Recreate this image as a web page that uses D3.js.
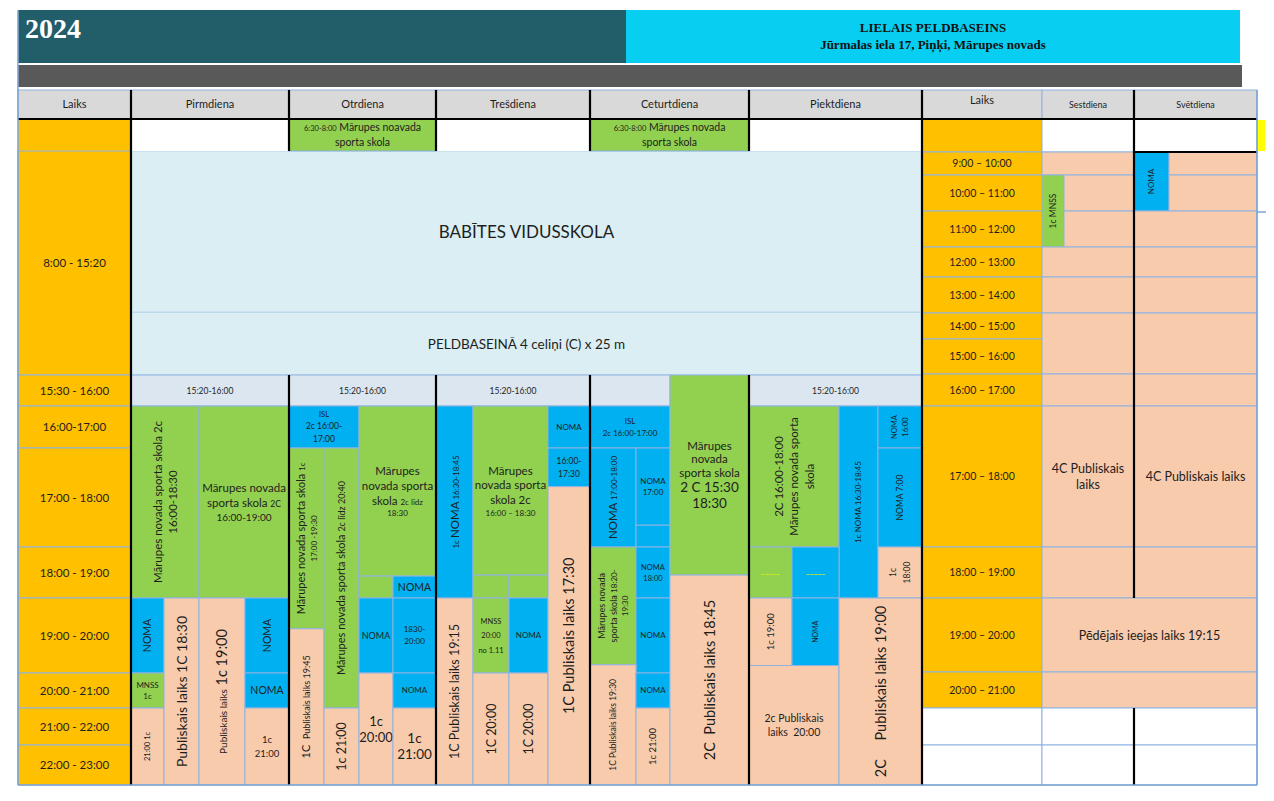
<!DOCTYPE html>
<html>
<head>
<meta charset="utf-8">
<script src="https://cdn.jsdelivr.net/npm/d3@7/dist/d3.min.js"></script>
<style>
  body { margin: 0; background: #fff; }
  svg text { font-family: Lato, "Open Sans", sans-serif; fill: #1e1e1e; }
</style>
</head>
<body>
<script>
(function () {
// ---- data -------------------------------------------------------------
var year = "2024";
var venue = ["LIELAIS PELDBASEINS", "Jūrmalas iela 17, Piņķi, Mārupes novads"];
var days = ["Pirmdiena", "Otrdiena", "Trešdiena", "Ceturtdiena", "Piektdiena"];
var weekendDays = ["Sestdiena", "Svētdiena"];

// [from, to, label] in hours
var weekdayRows = [
  [6.5, 8, ""], [8, 15.5, "8:00 - 15:20"], [15.5, 16, "15:30 - 16:00"],
  [16, 17, "16:00-17:00"], [17, 18, "17:00 - 18:00"], [18, 19, "18:00 - 19:00"],
  [19, 20, "19:00 - 20:00"], [20, 21, "20:00 - 21:00"], [21, 22, "21:00 - 22:00"],
  [22, 23, "22:00 - 23:00"]
];
var weekendRows = [
  [6.5, 9, ""], [9, 10, "9:00 – 10:00"], [10, 11, "10:00 – 11:00"], [11, 12, "11:00 – 12:00"],
  [12, 13, "12:00 – 13:00"], [13, 14, "13:00 – 14:00"], [14, 15, "14:00 – 15:00"],
  [15, 16, "15:00 – 16:00"], [16, 17, "16:00 – 17:00"], [17, 18, "17:00 – 18:00"],
  [18, 19, "18:00 – 19:00"], [19, 20, "19:00 – 20:00"], [20, 21, "20:00 – 21:00"],
  [21, 22, ""], [22, 23, ""]
];

var schoolBlocks = [
  { id: "s1", t: [8, 13.4], txt: "BABĪTES VIDUSSKOLA" },
  { id: "s2", t: [13.4, 15.5], txt: "PELDBASEINĀ 4 celiņi (C) x 25 m" }
];

// d = day, l = lanes [from, to], t = hours [from, to], k = kind
var sessions = [
  // Pirmdiena
  { id: "p0", d: 0, l: [0, 4], t: [15.5, 16], k: "pale", txt: "15:20-16:00" },
  { id: "p1", d: 0, l: [0, 2], t: [16, 19], k: "green", txt: "Mārupes novada sporta skola 2c\n16:00-18:30" },
  { id: "p2", d: 0, l: [2, 4], t: [16, 19], k: "green", txt: "Mārupes novada\nsporta skola {2C}\n16:00-19:00" },
  { id: "p3", d: 0, l: [0, 1], t: [19, 20], k: "blue", txt: "NOMA" },
  { id: "p4", d: 0, l: [0, 1], t: [20, 21], k: "green", txt: "MNSS\n1c" },
  { id: "p5", d: 0, l: [0, 1], t: [21, 23], k: "peach", txt: "21:00 1c" },
  { id: "p6", d: 0, l: [1, 2], t: [19, 23], k: "peach", txt: "Publiskais laiks 1C 18:30" },
  { id: "p7", d: 0, l: [2, 3], t: [19, 23], k: "peach", txt: "{Publiskais laiks} 1c 19:00" },
  { id: "p8", d: 0, l: [3, 4], t: [19, 20], k: "blue", txt: "NOMA" },
  { id: "p9", d: 0, l: [3, 4], t: [20, 21], k: "blue", txt: "NOMA" },
  { id: "p10", d: 0, l: [3, 4], t: [21, 23], k: "peach", txt: "1c\n21:00" },
  // Otrdiena
  { id: "o0", d: 1, l: [0, 4], t: [6.5, 8], k: "green", txt: "{6:30-8:00} Mārupes noavada\nsporta skola" },
  { id: "o00", d: 1, l: [0, 4], t: [15.5, 16], k: "pale", txt: "15:20-16:00" },
  { id: "o1", d: 1, l: [0, 2], t: [16, 17], k: "blue", txt: "ISL\n2c 16:00-\n17:00" },
  { id: "o2", d: 1, l: [0, 1], t: [17, 19.41], k: "green", txt: "Mārupes novada sporta skola {1c}\n{17:00 -19:30}" },
  { id: "o3", d: 1, l: [0, 1], t: [19.41, 23], k: "peach", txt: "1C  {Publiskais laiks 19:45}" },
  { id: "o4", d: 1, l: [1, 2], t: [17, 21], k: "green", txt: "Mārupes novada sporta skola {2c līdz 20:40}" },
  { id: "o5", d: 1, l: [1, 2], t: [21, 23], k: "peach", txt: "1c 21:00" },
  { id: "o6", d: 1, l: [2, 4], t: [16, 18.57], k: "green", txt: "Mārupes\nnovada sporta\nskola {2c līdz}\n{18:30}" },
  { id: "o7", d: 1, l: [2, 3], t: [18.57, 19], k: "green", txt: "" },
  { id: "o8", d: 1, l: [3, 4], t: [18.57, 19], k: "blue", txt: "NOMA" },
  { id: "o9", d: 1, l: [2, 3], t: [19, 20], k: "blue", txt: "NOMA" },
  { id: "o10", d: 1, l: [3, 4], t: [19, 20], k: "blue", txt: "1830-\n20:00" },
  { id: "o11", d: 1, l: [2, 3], t: [20, 23], k: "peach", txt: "1c\n20:00" },
  { id: "o12", d: 1, l: [3, 4], t: [20, 21], k: "blue", txt: "NOMA" },
  { id: "o13", d: 1, l: [3, 4], t: [21, 23], k: "peach", txt: "1c\n21:00" },
  // Trešdiena
  { id: "w0", d: 2, l: [0, 4], t: [15.5, 16], k: "pale", txt: "15:20-16:00" },
  { id: "w1", d: 2, l: [0, 1], t: [16, 19], k: "blue", txt: "{1c }NOMA{ 16:30-18:45}" },
  { id: "w2", d: 2, l: [0, 1], t: [19, 23], k: "peach", txt: "1C Publiskais laiks 19:15" },
  { id: "w3", d: 2, l: [1, 3], t: [16, 18.55], k: "green", txt: "Mārupes\nnovada sporta\nskola 2c\n{16:00 – 18:30}" },
  { id: "w4", d: 2, l: [1, 2], t: [18.55, 19], k: "green", txt: "" },
  { id: "w5", d: 2, l: [2, 3], t: [18.55, 19], k: "green", txt: "" },
  { id: "w6", d: 2, l: [1, 2], t: [19, 20], k: "green", txt: "MNSS\n20:00\nno 1.11" },
  { id: "w7", d: 2, l: [2, 3], t: [19, 20], k: "blue", txt: "NOMA" },
  { id: "w8", d: 2, l: [1, 2], t: [20, 23], k: "peach", txt: "1C 20:00" },
  { id: "w9", d: 2, l: [2, 3], t: [20, 23], k: "peach", txt: "1C 20:00" },
  { id: "w10", d: 2, l: [3, 4], t: [16, 17], k: "blue", txt: "NOMA" },
  { id: "w11", d: 2, l: [3, 4], t: [17, 17.39], k: "blue", txt: "16:00-\n17:30" },
  { id: "w12", d: 2, l: [3, 4], t: [17.39, 23], k: "peach", txt: "1C Publiskais laiks 17:30" },
  // Ceturtdiena
  { id: "c0", d: 3, l: [0, 3], t: [6.5, 8], k: "green", txt: "{6:30-8:00} Mārupes novada\nsporta skola" },
  { id: "c1", d: 3, l: [0, 2], t: [15.5, 16], k: "pale", txt: "" },
  { id: "c2", d: 3, l: [0, 2], t: [16, 17], k: "blue", txt: "ISL\n2c 16:00-17:00" },
  { id: "c3", d: 3, l: [0, 1], t: [17, 18], k: "blue", txt: "NOMA {17:00-18:00}" },
  { id: "c4", d: 3, l: [1, 2], t: [17, 17.78], k: "blue", txt: "NOMA\n17:00" },
  { id: "c5", d: 3, l: [1, 2], t: [17.78, 18], k: "blue", txt: "" },
  { id: "c6", d: 3, l: [0, 1], t: [18, 19.89], k: "green", txt: "Mārupes novada\nsporta skola {18:20-}\n{19:30}" },
  { id: "c7", d: 3, l: [1, 2], t: [18, 19], k: "blue", txt: "NOMA\n18:00" },
  { id: "c8", d: 3, l: [1, 2], t: [19, 20], k: "blue", txt: "NOMA" },
  { id: "c9", d: 3, l: [0, 1], t: [19.89, 23], k: "peach", txt: "1C Publiskais laiks 19:30" },
  { id: "c10", d: 3, l: [1, 2], t: [20, 21], k: "blue", txt: "NOMA" },
  { id: "c11", d: 3, l: [1, 2], t: [21, 23], k: "peach", txt: "1c 21:00" },
  { id: "c12", d: 3, l: [2, 3], t: [15.5, 18.55], k: "green", txt: "Mārupes\nnovada\nsporta skola\n2 C 15:30\n18:30" },
  { id: "c13", d: 3, l: [2, 3], t: [18.55, 23], k: "peach", txt: "2C  Publiskais laiks 18:45" },
  // Piektdiena
  { id: "f0", d: 4, l: [0, 4], t: [15.5, 16], k: "pale", txt: "15:20-16:00" },
  { id: "f1", d: 4, l: [0, 2], t: [16, 18], k: "green", txt: "2C 16:00-18:00\nMārupes novada sporta\nskola" },
  { id: "f2", d: 4, l: [2, 3], t: [16, 19], k: "blue", txt: "1c NOMA 16:30-18:45" },
  { id: "f3", d: 4, l: [3, 4], t: [16, 17], k: "blue", txt: "NOMA\n16:00" },
  { id: "f4", d: 4, l: [3, 4], t: [17, 18], k: "blue", txt: "NOMA 7:00" },
  { id: "f5", d: 4, l: [3, 4], t: [18, 19], k: "peach", txt: "1c\n18:00" },
  { id: "f6", d: 4, l: [0, 1], t: [18, 19], k: "green", txt: "_____" },
  { id: "f7", d: 4, l: [1, 2], t: [18, 19], k: "blue", txt: "_____" },
  { id: "f8", d: 4, l: [0, 1], t: [19, 19.9], k: "peach", txt: "1c 19:00" },
  { id: "f9", d: 4, l: [1, 2], t: [19, 19.9], k: "blue", txt: "NOMA" },
  { id: "f10", d: 4, l: [0, 2], t: [19.9, 23], k: "peach", txt: "2c Publiskais\nlaiks  20:00" },
  { id: "f11", d: 4, l: [2, 4], t: [19, 23], k: "peach", txt: "2C     Publiskais laiks 19:00" }
];

// weekend lanes: 0..2 = Sestdiena, 2..4 = Svētdiena
var weekendSessions = [
  { id: "e1", l: [0, 2], t: [6.5, 9], k: "white", txt: "" },
  { id: "e2", l: [2, 4], t: [6.5, 9], k: "white", txt: "" },
  { id: "e3", l: [0, 2], t: [9, 10], k: "peach", txt: "" },
  { id: "e4", l: [0, 1], t: [10, 12], k: "green", txt: "1c MNSS" },
  { id: "e5", l: [1, 2], t: [10, 11], k: "peach", txt: "" },
  { id: "e6", l: [1, 2], t: [11, 12], k: "peach", txt: "" },
  { id: "e7", l: [2, 3], t: [9, 11], k: "blue", txt: "NOMA" },
  { id: "e8", l: [3, 4], t: [9, 10], k: "peach", txt: "" },
  { id: "e9", l: [3, 4], t: [10, 11], k: "peach", txt: "" },
  { id: "e10", l: [2, 4], t: [11, 12], k: "peach", txt: "" },
  { id: "e11", l: [0, 2], t: [12, 13], k: "peach", txt: "" },
  { id: "e12", l: [2, 4], t: [12, 13], k: "peach", txt: "" },
  { id: "e13", l: [0, 2], t: [13, 14], k: "peach", txt: "" },
  { id: "e14", l: [2, 4], t: [13, 14], k: "peach", txt: "" },
  { id: "e15", l: [0, 2], t: [14, 16], k: "peach", txt: "" },
  { id: "e16", l: [2, 4], t: [14, 16], k: "peach", txt: "" },
  { id: "e17", l: [0, 2], t: [16, 17], k: "peach", txt: "" },
  { id: "e18", l: [2, 4], t: [16, 17], k: "peach", txt: "" },
  { id: "e19", l: [0, 2], t: [17, 18], k: "peach", txt: "4C Publiskais\nlaiks" },
  { id: "e20", l: [2, 4], t: [17, 18], k: "peach", txt: "4C Publiskais laiks" },
  { id: "e21", l: [0, 2], t: [18, 19], k: "peach", txt: "" },
  { id: "e22", l: [2, 4], t: [18, 19], k: "peach", txt: "" },
  { id: "e23", l: [0, 4], t: [19, 20], k: "peach", txt: "Pēdējais ieejas laiks 19:15" },
  { id: "e24", l: [0, 4], t: [20, 21], k: "peach", txt: "" },
  { id: "e25", l: [0, 2], t: [21, 22], k: "white", txt: "" },
  { id: "e26", l: [2, 4], t: [21, 22], k: "white", txt: "" },
  { id: "e27", l: [0, 2], t: [22, 23], k: "white", txt: "" },
  { id: "e28", l: [2, 4], t: [22, 23], k: "white", txt: "" }
];

// ---- label formats (r = rotated, fs = size, sm = small segments, ls = per line) ----
var fmt = {
  s1: { fs: 17 }, s2: { fs: 13.5 },
  p0: { fs: 8.5 }, o00: { fs: 8.5 }, w0: { fs: 8.5 }, f0: { fs: 8.5 },
  p1: { r: 1, fs: 11.5, lh: 1.3 }, p2: { ls: [11.5, 11.5, 10], sm: 8.5, lh: 1.3 },
  p3: { r: 1, fs: 10.5 }, p4: { fs: 8, lh: 1.45 }, p5: { r: 1, fs: 7.5 },
  p6: { r: 1, fs: 14 }, p7: { r: 1, fs: 14.5, sm: 10 }, p8: { r: 1, fs: 10.5 },
  p9: { fs: 10.5 }, p10: { fs: 9.5, lh: 1.45 },
  o0: { fs: 10.5, sm: 7.5, lh: 1.4 }, o1: { ls: [7.5, 8.5, 8.5], lh: 1.5 },
  o2: { r: 1, fs: 11, sm: 8, lh: 1.35 }, o3: { r: 1, fs: 11, sm: 9 },
  o4: { r: 1, fs: 11, sm: 9 }, o5: { r: 1, fs: 12.5 },
  o6: { ls: [11.5, 11.5, 11.5, 8], sm: 8, lh: 1.3 }, o8: { fs: 10.5 }, o9: { fs: 9 },
  o10: { fs: 8, lh: 1.5 }, o11: { fs: 13, lh: 1.25 }, o12: { fs: 8 }, o13: { fs: 13.5, lh: 1.2 },
  w1: { r: 1, fs: 11.5, sm: 8 }, w2: { r: 1, fs: 12.5 },
  w3: { ls: [11.5, 11.5, 11.5, 8], sm: 8, lh: 1.3 }, w6: { fs: 7.5, lh: 1.95 },
  w7: { fs: 8 }, w8: { r: 1, fs: 12.5 }, w9: { r: 1, fs: 12.5 }, w10: { fs: 8 },
  w11: { fs: 8.5, lh: 1.5 }, w12: { r: 1, fs: 14.5 },
  c0: { fs: 10.5, sm: 7.5, lh: 1.4 }, c2: { fs: 8, lh: 1.5 }, c3: { r: 1, fs: 11.5, sm: 8 },
  c4: { fs: 8, lh: 1.4 }, c6: { r: 1, fs: 9, sm: 8, lh: 1.35 }, c7: { fs: 7.5, lh: 1.45 },
  c8: { fs: 8 }, c9: { r: 1, fs: 8.5 }, c10: { fs: 8 }, c11: { r: 1, fs: 9.5 },
  c12: { ls: [11.5, 11.5, 11.5, 13.5, 13.5], lh: 1.18 }, c13: { r: 1, fs: 14.5 },
  f1: { r: 1, fs: 11.5, lh: 1.35 }, f2: { r: 1, fs: 8 }, f3: { r: 1, fs: 7.5, lh: 1.4 },
  f4: { r: 1, fs: 8.5 }, f5: { r: 1, fs: 8.5, lh: 1.6 },
  f6: { fs: 8.5, c: "#e4f000", dy: -3 }, f7: { fs: 8.5, c: "#e4f000", dy: -3 },
  f8: { r: 1, fs: 9.5 }, f9: { r: 1, fs: 7 }, f10: { fs: 10.5, lh: 1.35 }, f11: { r: 1, fs: 14.5 },
  e4: { r: 1, fs: 8.5 }, e7: { r: 1, fs: 8 }, e19: { fs: 12.5, lh: 1.3 }, e20: { fs: 12.5 },
  e23: { fs: 12.5 }
};

// ---- layout -------------------------------------------------------------
var W = 1274, H = 801;
var COL = { green: "#92D050", blue: "#00B0F0", peach: "#F8CBAD", pale: "#DCE6F1",
  school: "#DAEEF3", white: "#FFFFFF", orange: "#FFC000", head: "#D9D9D9" };
var GRID = "#8DB3E2";

// column edges: Laiks, 5 weekdays, Laiks, Sestdiena, Svētdiena
var colX = d3.scaleLinear().domain(d3.range(10))
  .range([18, 131, 289, 436, 590, 749, 922, 1042, 1134, 1257]);
// rows are not evenly sized, so both time scales are polylinear
var yWeek = d3.scaleLinear().domain([6.5, 8, 15.5, 16, 17, 18, 19, 20, 21, 22, 23])
  .range([119, 151, 375, 406, 448, 547, 598, 673, 708, 745, 785]);
var yEnd = d3.scaleLinear().domain([6.5, 9, 10, 11, 12, 13, 14, 15, 16, 17, 18, 19, 20, 21, 22, 23])
  .range([119, 152, 175, 211, 247, 277, 313, 339, 374, 406, 547, 598, 672, 708, 745, 785]);
// sub-lane edges inside each weekday column
var laneEdges = [
  [131, 164, 199, 245, 289],
  [289, 324, 359, 393, 436],
  [436, 473, 509, 548, 590],
  [590, 636, 670, 749],
  [749, 792, 839, 878, 922]
];
var laneX = laneEdges.map(function (e) {
  return d3.scaleLinear().domain(d3.range(e.length)).range(e);
});
var weekendX = d3.scaleLinear().domain([0, 1, 2, 3, 4]).range([1042, 1064, 1134, 1169, 1257]);

var svg = d3.select("body").append("svg").attr("width", W).attr("height", H);

// multi-line label, optionally rotated; {..} marks smaller segments
function drawLabel(g, b, txt, f) {
  if (!txt) return;
  f = f || {};
  var fs = f.fs || 10, sm = f.sm || fs * 0.72, lh = f.lh || 1.25;
  var rows = txt.split("\n");
  var sizes = rows.map(function (ln, i) {
    if (f.ls) return f.ls[i];
    return /^\{[^}]*\}$/.test(ln) ? sm : fs;
  });
  var steps = sizes.map(function (s) { return s * lh; });
  var total = d3.sum(steps);
  var cx = (b.x0 + b.x1) / 2, cy = (b.y0 + b.y1) / 2 + (f.dy || 0);
  var t = g.append("text").attr("text-anchor", "middle")
    .attr("transform", "translate(" + cx + "," + cy + ")" + (f.r ? " rotate(-90)" : ""))
    .style("white-space", "pre");
  if (f.c) t.style("fill", f.c);
  var off = -total / 2;
  rows.forEach(function (ln, i) {
    var mid = off + steps[i] / 2;
    off += steps[i];
    var tl = t.append("tspan").attr("x", 0).attr("y", mid + sizes[i] * 0.36)
      .style("font-size", sizes[i] + "px");
    ln.split(/(\{[^}]*\})/).forEach(function (seg) {
      if (!seg) return;
      var small = seg.charAt(0) === "{";
      tl.append("tspan")
        .style("font-size", (small ? Math.min(sm, sizes[i]) : sizes[i]) + "px")
        .text(small ? seg.slice(1, -1) : seg);
    });
  });
}

function cell(g, b, fill, stroke) {
  g.append("rect").attr("x", b.x0).attr("y", b.y0)
    .attr("width", b.x1 - b.x0).attr("height", b.y1 - b.y0)
    .attr("fill", fill).attr("stroke", stroke === undefined ? GRID : stroke)
    .attr("stroke-width", 1);
}

// ---- title bands ----
var titleG = svg.append("g");
titleG.append("rect").attr("x", 18).attr("y", 10).attr("width", 608).attr("height", 53).attr("fill", "#225E6A");
titleG.append("rect").attr("x", 626).attr("y", 10).attr("width", 614).attr("height", 53).attr("fill", "#08CEF2");
titleG.append("rect").attr("x", 18).attr("y", 65).attr("width", 1224).attr("height", 22).attr("fill", "#595959");
titleG.append("text").attr("x", 25).attr("y", 38)
  .style("font-family", "'Liberation Serif', serif").style("font-weight", "bold")
  .style("font-size", "28px").style("fill", "#fff").text(year);
venue.forEach(function (v, i) {
  titleG.append("text").attr("x", 933).attr("y", 32 + i * 17).attr("text-anchor", "middle")
    .style("font-family", "'Liberation Serif', serif").style("font-weight", "bold")
    .style("font-size", "13px").style("fill", "#111").text(v);
});

// ---- header row ----
var headG = svg.append("g");
var headers = ["Laiks"].concat(days, ["Laiks"], weekendDays);
headers.forEach(function (h, i) {
  var b = { x0: colX(i), x1: colX(i + 1), y0: 90, y1: 119 };
  cell(headG, b, COL.head);
  var small = i >= 7;
  drawLabel(headG, { x0: b.x0, x1: b.x1, y0: b.y0, y1: b.y1 + (i === 6 ? -9 : 0) }, h,
    { fs: small ? 9 : 11 });
});

// ---- time columns ----
var timeG = svg.append("g");
weekdayRows.forEach(function (r, i) {
  var b = { x0: colX(0), x1: colX(1), y0: yWeek(r[0]), y1: yWeek(r[1]) };
  cell(timeG, b, COL.orange, i === 0 ? "none" : GRID);
  drawLabel(timeG, b, r[2], { fs: 11.5 });
});
weekendRows.forEach(function (r) {
  var b = { x0: colX(6), x1: colX(7), y0: yEnd(r[0]), y1: yEnd(r[1]) };
  cell(timeG, b, r[1] <= 21 ? COL.orange : COL.white);
  drawLabel(timeG, b, r[2], { fs: 10.5 });
});

// ---- blocks ----
var blockG = svg.append("g");
schoolBlocks.forEach(function (s) {
  var b = { x0: colX(1), x1: colX(6), y0: yWeek(s.t[0]), y1: yWeek(s.t[1]) };
  cell(blockG, b, COL.school, "#B7D3EC");
  drawLabel(blockG, b, s.txt, fmt[s.id]);
});
// white cells of the 6:30 row where nothing is booked
[0, 2, 4].forEach(function (d) {
  cell(blockG, { x0: colX(d + 1), x1: colX(d + 2), y0: yWeek(6.5), y1: yWeek(8) }, COL.white, "none");
});
sessions.forEach(function (s) {
  var lx = laneX[s.d];
  var b = { x0: lx(s.l[0]), x1: lx(s.l[1]), y0: yWeek(s.t[0]), y1: yWeek(s.t[1]) };
  cell(blockG, b, COL[s.k]);
  drawLabel(blockG, b, s.txt, fmt[s.id]);
});
weekendSessions.forEach(function (s) {
  var b = { x0: weekendX(s.l[0]), x1: weekendX(s.l[1]), y0: yEnd(s.t[0]), y1: yEnd(s.t[1]) };
  cell(blockG, b, COL[s.k]);
  drawLabel(blockG, b, s.txt, fmt[s.id]);
});

// ---- heavy day separators ----
var sepG = svg.append("g").attr("stroke", "#000").attr("stroke-width", 2.2);
var yB = yWeek(23);
var vSegs = [[colX(1), 90, yB], [colX(6), 90, yB],
  [colX(8), 90, yEnd(19)], [colX(8), yEnd(21), yB]];
[2, 3, 4, 5].forEach(function (c) {
  vSegs.push([colX(c), 90, yWeek(8)]);
  vSegs.push([colX(c), yWeek(15.5), yB]);
});
vSegs.forEach(function (s) {
  sepG.append("line").attr("x1", s[0]).attr("x2", s[0]).attr("y1", s[1]).attr("y2", s[2]);
});
sepG.append("line").attr("x1", colX(0)).attr("x2", colX(9)).attr("y1", 119).attr("y2", 119);
sepG.append("line").attr("x1", colX(8)).attr("x2", colX(9)).attr("y1", yEnd(9)).attr("y2", yEnd(9));

// ---- outer frame ----
var frameG = svg.append("g").attr("stroke", "#7EA6D4").attr("stroke-width", 1.6).attr("fill", "none");
frameG.append("line").attr("x1", 18).attr("x2", 18).attr("y1", 10).attr("y2", yB);
frameG.append("line").attr("x1", colX(9)).attr("x2", colX(9)).attr("y1", 90).attr("y2", yB);
frameG.append("line").attr("x1", 18).attr("x2", colX(9)).attr("y1", yB).attr("y2", yB);
svg.append("rect").attr("x", 1258).attr("y", 120).attr("width", 7).attr("height", 31).attr("fill", "#FFFF00");
svg.append("line").attr("x1", 1257).attr("x2", 1266).attr("y1", 212).attr("y2", 212)
  .attr("stroke", "#7EA6D4").attr("stroke-width", 1.5);
})();
</script>
</body>
</html>
